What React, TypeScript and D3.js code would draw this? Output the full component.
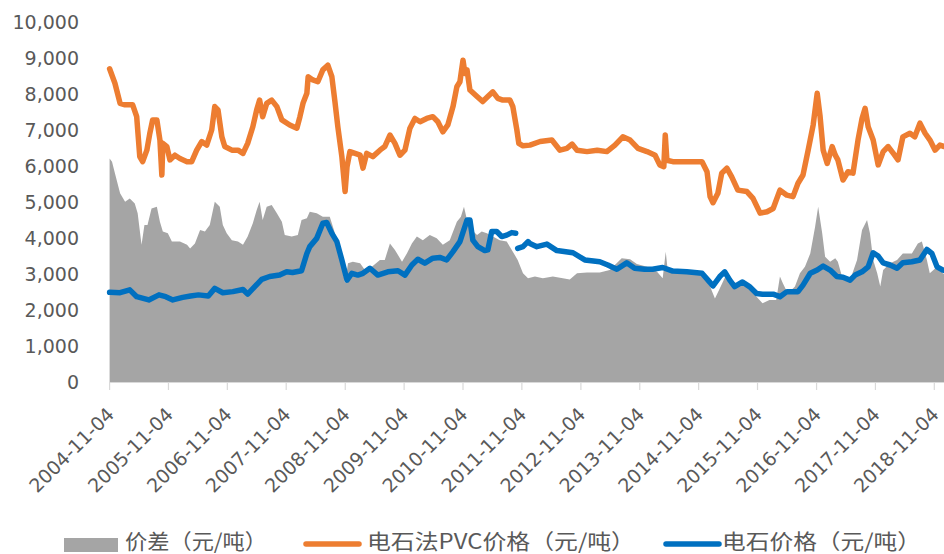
import React from "react";
import * as d3 from "d3";

// ---------- DATA ----------
const xTickLabels = [
  "2004-11-04", "2005-11-04", "2006-11-04", "2007-11-04", "2008-11-04",
  "2009-11-04", "2010-11-04", "2011-11-04", "2012-11-04", "2013-11-04",
  "2014-11-04", "2015-11-04", "2016-11-04", "2017-11-04", "2018-11-04",
];
const yTickValues = [0, 1000, 2000, 3000, 4000, 5000, 6000, 7000, 8000, 9000, 10000];

const seriesNames = ["价差（元/吨）", "电石法PVC价格（元/吨）", "电石价格（元/吨）"];

// 电石法PVC价格
const pvcDates = [
  "2004-11-04", "2004-12-07", "2005-01-08", "2005-02-08", "2005-03-27", "2005-04-21", "2005-05-10", "2005-05-28",
  "2005-06-23", "2005-07-11", "2005-07-29", "2005-08-24", "2005-09-12", "2005-09-24", "2005-09-30", "2005-10-25",
  "2005-11-13", "2005-12-14", "2006-01-14", "2006-02-27", "2006-03-28", "2006-04-28", "2006-05-29", "2006-06-29",
  "2006-07-30", "2006-08-18", "2006-09-07", "2006-10-01", "2006-10-19", "2006-12-02", "2007-01-09", "2007-02-09",
  "2007-03-10", "2007-04-11", "2007-05-05", "2007-05-23", "2007-06-11", "2007-07-06", "2007-08-06", "2007-09-07",
  "2007-10-08", "2007-11-26", "2008-01-09", "2008-01-28", "2008-02-16", "2008-03-11", "2008-03-19", "2008-04-17",
  "2008-05-18", "2008-06-18", "2008-07-19", "2008-08-13", "2008-09-01", "2008-09-19", "2008-10-14", "2008-11-03",
  "2008-11-15", "2008-12-03", "2009-01-04", "2009-02-04", "2009-02-22", "2009-03-17", "2009-04-24", "2009-06-07",
  "2009-07-07", "2009-08-08", "2009-09-08", "2009-10-09", "2009-11-09", "2009-12-10", "2010-01-10", "2010-02-11",
  "2010-03-24", "2010-05-01", "2010-06-01", "2010-07-02", "2010-08-02", "2010-09-03", "2010-09-27", "2010-10-16",
  "2010-11-04", "2010-11-16", "2010-11-29", "2010-12-17", "2011-01-30", "2011-03-06", "2011-04-07", "2011-05-08",
  "2011-06-08", "2011-07-09", "2011-08-22", "2011-09-09", "2011-10-04", "2011-10-16", "2011-11-11", "2011-12-24",
  "2012-02-25", "2012-05-08", "2012-06-27", "2012-08-09", "2012-09-10", "2012-10-11", "2012-12-12", "2013-02-13",
  "2013-04-14", "2013-06-03", "2013-07-22", "2013-09-05", "2013-10-24", "2013-12-19", "2014-02-07", "2014-03-08",
  "2014-04-02", "2014-04-11", "2014-04-21", "2014-05-28", "2014-08-23", "2014-11-25", "2014-12-26", "2015-01-14",
  "2015-02-01", "2015-03-03", "2015-03-27", "2015-04-28", "2015-05-28", "2015-07-05", "2015-08-30", "2015-10-07",
  "2015-11-20", "2016-01-02", "2016-02-09", "2016-03-22", "2016-05-04", "2016-06-11", "2016-07-12", "2016-08-12",
  "2016-09-13", "2016-10-14", "2016-11-08", "2016-11-26", "2016-12-15", "2017-01-09", "2017-02-09", "2017-02-28",
  "2017-03-16", "2017-04-17", "2017-05-18", "2017-06-18", "2017-07-19", "2017-08-13", "2017-09-01", "2017-09-20",
  "2017-10-21", "2017-11-21", "2017-12-22", "2018-01-22", "2018-02-23", "2018-03-24", "2018-04-23", "2018-06-06",
  "2018-07-06", "2018-08-07", "2018-09-08", "2018-10-08", "2018-11-09", "2018-12-09", "2019-01-04",
];
const pvcValues = [
  8700, 8300, 7740, 7700, 7700, 7370, 6260, 6120,
  6440, 6900, 7280, 7280, 6720, 5750, 6630, 6540,
  6170, 6300, 6210, 6120, 6120, 6440, 6680, 6580,
  7000, 7650, 7560, 6810, 6540, 6440, 6440, 6350,
  6630, 7090, 7560, 7830, 7370, 7740, 7830, 7650,
  7280, 7140, 7050, 7370, 7740, 8020, 8480, 8390,
  8340, 8670, 8800, 8480, 7790, 7090, 6260, 5290,
  5980, 6400, 6350, 6300, 5940, 6350, 6260, 6440,
  6540, 6860, 6630, 6300, 6440, 7050, 7320, 7230,
  7320, 7370, 7230, 6950, 7140, 7650, 8200, 8340,
  8940, 8570, 8670, 8110, 7930, 7790, 7930, 8060,
  7880, 7830, 7830, 7650, 7000, 6630, 6560, 6580,
  6680, 6720, 6440, 6490, 6610, 6440, 6400, 6440,
  6400, 6580, 6810, 6720, 6490, 6400, 6300, 6030,
  5980, 6860, 6160, 6120, 6120, 6120, 5840, 5150,
  4980, 5240, 5800, 5940, 5700, 5330, 5290, 5100,
  4690, 4730, 4820, 5330, 5190, 5150, 5520, 5750,
  6440, 7140, 8020, 7370, 6440, 6070, 6540, 6300,
  6170, 5610, 5840, 5800, 6720, 7320, 7600, 7090,
  6720, 6030, 6400, 6540, 6350, 6170, 6810, 6910,
  6810, 7190, 6910, 6720, 6440, 6580, 6540,
];

// 电石价格 (null = gap in the series)
const carbideDates = [
  "2004-11-04", "2005-01-08", "2005-03-09", "2005-04-21", "2005-07-05", "2005-09-06", "2005-10-18", "2005-12-01",
  "2006-01-31", "2006-03-21", "2006-05-09", "2006-07-09", "2006-08-18", "2006-10-07", "2006-12-08", "2007-02-09",
  "2007-03-10", "2007-04-23", "2007-06-05", "2007-07-24", "2007-09-24", "2007-11-07", "2007-12-13", "2008-02-07",
  "2008-03-11", "2008-03-29", "2008-05-11", "2008-06-18", "2008-07-12", "2008-08-13", "2008-09-13", "2008-10-14",
  "2008-11-15", "2008-12-15", "2009-01-21", "2009-02-22", "2009-04-06", "2009-05-25", "2009-07-26", "2009-09-27",
  "2009-11-09", "2009-12-22", "2010-01-28", "2010-03-12", "2010-05-01", "2010-06-13", "2010-07-26", "2010-09-03",
  "2010-10-16", "2010-11-29", "2010-12-17", "2011-01-04", "2011-02-04", "2011-03-19", "2011-04-07", "2011-05-01",
  "2011-06-01", "2011-07-02", "2011-08-02", "2011-09-02", "2011-09-27", "2011-10-03", "2011-10-09", "2011-11-11",
  "2011-12-12", "2011-12-24", "2012-02-05", "2012-04-07", "2012-06-08", "2012-09-16", "2012-11-28", "2013-03-01",
  "2013-04-20", "2013-06-15", "2013-08-15", "2013-10-03", "2013-12-04", "2014-01-22", "2014-03-26", "2014-05-28",
  "2014-08-23", "2014-11-25", "2015-01-01", "2015-02-01", "2015-03-15", "2015-04-15", "2015-05-16", "2015-06-15",
  "2015-08-03", "2015-09-15", "2015-10-29", "2015-12-05", "2016-02-09", "2016-03-22", "2016-05-04", "2016-07-12",
  "2016-08-12", "2016-09-26", "2016-11-08", "2016-12-15", "2017-01-27", "2017-03-10", "2017-04-17", "2017-05-31",
  "2017-07-01", "2017-08-13", "2017-09-20", "2017-10-21", "2017-11-21", "2017-12-22", "2018-02-03", "2018-03-18",
  "2018-04-23", "2018-06-18", "2018-08-07", "2018-09-19", "2018-10-20", "2018-11-21", "2018-12-27", "2019-01-04",
];
const carbideValues = [
  2490, 2480, 2560, 2370, 2280, 2420, 2370, 2280,
  2350, 2390, 2420, 2390, 2600, 2480, 2510, 2570,
  2440, 2650, 2850, 2930, 2970, 3060, 3040, 3090,
  3570, 3760, 3990, 4410, 4430, 4130, 3900, 3390,
  2830, 3020, 2970, 3020, 3160, 2970, 3060, 3090,
  2970, 3250, 3410, 3300, 3440, 3460, 3390, 3620,
  3900, 4500, 4500, 3940, 3760, 3650, 3670, 4180,
  4180, 4040, 4080, 4150, 4130, null, 3710, 3760,
  3900, 3850, 3760, 3830, 3650, 3590, 3390, 3340,
  3250, 3130, 3310, 3160, 3130, 3130, 3180, 3080,
  3060, 3020, 2830, 2670, 2930, 3060, 2830, 2650,
  2780, 2650, 2460, 2440, 2440, 2370, 2510, 2510,
  2690, 3020, 3110, 3220, 3110, 2930, 2910, 2830,
  2970, 3060, 3200, 3590, 3500, 3310, 3250, 3160,
  3310, 3340, 3390, 3680, 3570, 3200, 3110, 3100,
];

// 价差
const spreadDates = [
  "2004-11-04", "2004-11-19", "2004-12-07", "2005-01-08", "2005-02-08", "2005-03-09", "2005-04-09", "2005-04-27",
  "2005-05-21", "2005-06-08", "2005-06-27", "2005-07-22", "2005-08-24", "2005-09-12", "2005-09-30", "2005-10-31",
  "2005-11-25", "2006-01-14", "2006-02-27", "2006-03-18", "2006-04-17", "2006-05-19", "2006-06-18", "2006-07-18",
  "2006-08-18", "2006-09-18", "2006-10-07", "2006-10-31", "2006-12-02", "2007-01-09", "2007-02-09", "2007-03-10",
  "2007-04-11", "2007-05-05", "2007-05-23", "2007-06-11", "2007-07-06", "2007-08-06", "2007-09-07", "2007-10-08",
  "2007-10-26", "2007-12-08", "2008-01-15", "2008-02-07", "2008-03-11", "2008-03-29", "2008-05-11", "2008-06-18",
  "2008-07-31", "2008-09-01", "2008-10-01", "2008-11-03", "2008-11-21", "2008-12-21", "2009-02-04", "2009-03-06",
  "2009-04-18", "2009-06-07", "2009-07-07", "2009-08-08", "2009-09-08", "2009-10-22", "2009-11-21", "2009-12-22",
  "2010-01-22", "2010-02-28", "2010-04-12", "2010-05-25", "2010-07-02", "2010-08-14", "2010-09-27", "2010-10-22",
  "2010-11-10", "2010-11-29", "2010-12-29", "2011-01-30", "2011-02-28", "2011-04-01", "2011-05-08", "2011-06-20",
  "2011-08-02", "2011-09-09", "2011-10-09", "2011-11-11", "2011-12-12", "2012-01-24", "2012-03-13", "2012-05-14",
  "2012-07-15", "2012-08-27", "2012-10-11", "2012-12-12", "2013-03-01", "2013-05-02", "2013-07-15", "2013-09-05",
  "2013-10-17", "2013-12-19", "2014-02-19", "2014-03-26", "2014-04-14", "2014-04-26", "2014-07-08", "2014-09-26",
  "2014-11-25", "2015-01-14", "2015-02-13", "2015-03-15", "2015-04-28", "2015-06-03", "2015-06-28", "2015-08-03",
  "2015-09-15", "2015-10-29", "2015-12-05", "2016-01-17", "2016-02-28", "2016-03-22", "2016-04-09", "2016-05-10",
  "2016-06-23", "2016-07-24", "2016-08-24", "2016-09-26", "2016-10-26", "2016-11-14", "2016-12-09", "2016-12-27",
  "2017-01-27", "2017-02-28", "2017-03-16", "2017-04-17", "2017-05-31", "2017-07-13", "2017-08-13", "2017-09-13",
  "2017-10-01", "2017-10-21", "2017-11-15", "2017-12-04", "2017-12-22", "2018-02-03", "2018-03-18", "2018-04-23",
  "2018-06-18", "2018-07-25", "2018-08-19", "2018-09-19", "2018-10-07", "2018-11-21", "2018-12-27", "2019-01-04",
];
const spreadValues = [
  6210, 6120, 5800, 5240, 5010, 5100, 4960, 4690,
  3810, 4360, 4360, 4820, 4870, 4450, 4180, 4130,
  3900, 3900, 3810, 3710, 3850, 4220, 4180, 4360,
  5010, 4870, 4360, 4130, 3940, 3900, 3810, 4040,
  4410, 4780, 5010, 4500, 4870, 4920, 4690, 4450,
  4080, 4040, 4080, 4500, 4550, 4730, 4690, 4590,
  4590, 4130, 3570, 2740, 3300, 3340, 3300, 3110,
  3200, 3390, 3390, 3850, 3670, 3340, 3570, 3850,
  4040, 3940, 4080, 3990, 3810, 3940, 4450, 4590,
  4870, 4500, 4220, 4080, 4180, 4130, 4040, 3940,
  3900, 3620, 3390, 3020, 2880, 2930, 2880, 2930,
  2880, 2850, 3020, 3040, 3040, 3110, 3440, 3410,
  3280, 3200, 3060, 2880, 3620, 3110, 3110, 3110,
  3020, 2650, 2320, 2600, 3020, 2790, 2740, 2830,
  2560, 2370, 2190, 2280, 2280, 2930, 2740, 2460,
  2650, 3020, 3200, 3570, 4310, 4870, 4130, 3480,
  3340, 3440, 3340, 2830, 2830, 3390, 4220, 4500,
  4130, 3390, 3020, 2650, 3110, 3300, 3390, 3570,
  3570, 3850, 3900, 3390, 3020, 3200, 3020, 3000,
];

// ---------- CHART ----------
const W = 944;
const H = 554;
const parse = d3.timeParse("%Y-%m-%d");

type Pt = { date: Date; v: number | null };
const zip = (ds: string[], vs: (number | null)[]): Pt[] =>
  ds.map((d, i) => ({ date: parse(d) as Date, v: vs[i] }));

export default function App() {
  const x = d3
    .scaleTime()
    .domain([parse(xTickLabels[0]) as Date, parse(xTickLabels[xTickLabels.length - 1]) as Date])
    .range([109.6, 934.3]);
  const y = d3.scaleLinear().domain([0, 10000]).range([382, 22]);

  const pvc = zip(pvcDates, pvcValues);
  const carbide = zip(carbideDates, carbideValues);
  const spread = zip(spreadDates, spreadValues);

  const area = d3
    .area<Pt>()
    .x((d) => x(d.date))
    .y0(y(0))
    .y1((d) => y(d.v as number));
  const line = d3
    .line<Pt>()
    .defined((d) => d.v !== null)
    .x((d) => x(d.date))
    .y((d) => y(d.v as number));

  const fmt = d3.format(",");
  const textColor = "#595959";
  const numFont = "'DejaVu Sans', sans-serif";
  const cjkFont = "'Noto Sans CJK SC', sans-serif";

  const colors = ["#A5A5A5", "#ED7D31", "#0070C0"];
  const legendY = 541;

  return (
    <svg
      width={W}
      height={H}
      viewBox={`0 0 ${W} ${H}`}
      style={{ position: "absolute", left: 0, top: 0, background: "#fff" }}
    >
      <rect x={0} y={0} width={W} height={H} fill="#fff" />
      <defs>
        <clipPath id="plot">
          <rect x={105} y={0} width={W - 105} height={384} />
        </clipPath>
      </defs>

      {/* Y tick labels */}
      {yTickValues.map((v) => (
        <text
          key={v}
          x={79}
          y={y(v)}
          dy="0.36em"
          textAnchor="end"
          fontFamily={numFont}
          fontSize={19}
          fill={textColor}
        >
          {fmt(v)}
        </text>
      ))}

      <g clipPath="url(#plot)">
        <path d={area(spread) || ""} fill={colors[0]} />
      </g>

      {/* X axis */}
      <line x1={109} x2={W} y1={382.5} y2={382.5} stroke="#D9D9D9" strokeWidth={1.2} />
      {xTickLabels.map((t) => {
        const tx = x(parse(t) as Date);
        return (
          <g key={t}>
            <line x1={tx} x2={tx} y1={382} y2={390} stroke="#D9D9D9" strokeWidth={1.2} />
            <text
              transform={`translate(${tx + 1},${411}) rotate(-45)`}
              textAnchor="end"
              dy="0.35em"
              fontFamily={numFont}
              fontSize={19}
              fill={textColor}
            >
              {t}
            </text>
          </g>
        );
      })}

      <g clipPath="url(#plot)">
        <path
          d={line(pvc) || ""}
          fill="none"
          stroke={colors[1]}
          strokeWidth={5.5}
          strokeLinejoin="round"
          strokeLinecap="round"
        />
        <path
          d={line(carbide) || ""}
          fill="none"
          stroke={colors[2]}
          strokeWidth={5.5}
          strokeLinejoin="round"
          strokeLinecap="round"
        />
      </g>

      {/* Legend */}
      <g>
        <rect x={64} y={538} width={54} height={14} fill={colors[0]} />
        <text
          x={125}
          y={legendY}
          dy="0.36em"
          fontFamily={cjkFont}
          fontSize={21}
          fill={textColor}
          textLength={142}
          lengthAdjust="spacingAndGlyphs"
        >
          {seriesNames[0]}
        </text>
        <line x1={306} x2={359} y1={544} y2={544} stroke={colors[1]} strokeWidth={5.5} strokeLinecap="round" />
        <text
          x={367}
          y={legendY}
          dy="0.36em"
          fontFamily={cjkFont}
          fontSize={21}
          fill={textColor}
          textLength={268}
          lengthAdjust="spacingAndGlyphs"
        >
          {seriesNames[1]}
        </text>
        <line x1={666} x2={719} y1={544} y2={544} stroke={colors[2]} strokeWidth={5.5} strokeLinecap="round" />
        <text
          x={722}
          y={legendY}
          dy="0.36em"
          fontFamily={cjkFont}
          fontSize={21}
          fill={textColor}
          textLength={199}
          lengthAdjust="spacingAndGlyphs"
        >
          {seriesNames[2]}
        </text>
      </g>
    </svg>
  );
}
